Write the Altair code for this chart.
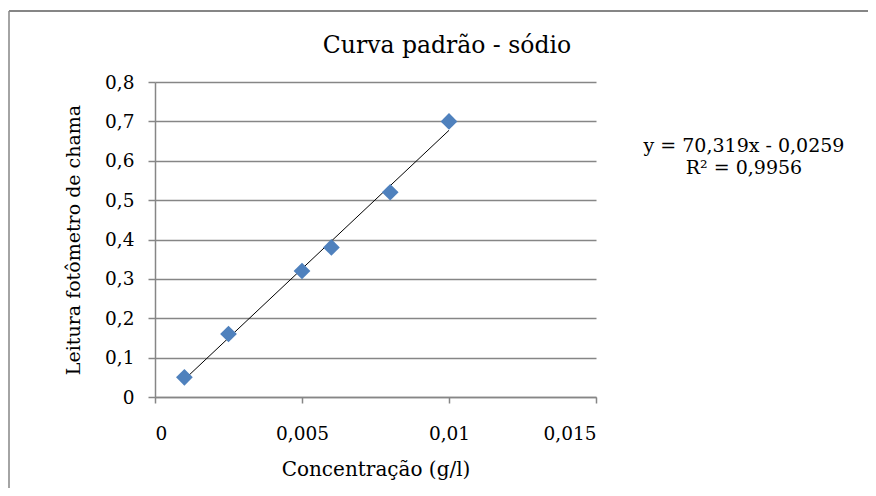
import altair as alt
import pandas as pd

# ---- data ----
conc = [0.001, 0.0025, 0.005, 0.006, 0.008, 0.01]
leitura = [0.05, 0.16, 0.32, 0.38, 0.52, 0.70]
x_ticks = [0, 0.005, 0.01, 0.015]
y_ticks = [0, 0.1, 0.2, 0.3, 0.4, 0.5, 0.6, 0.7, 0.8]
equation_lines = ["y = 70,319x - 0,0259", "R² = 0,9956"]
title_text = "Curva padrão - sódio"
x_title = "Concentração (g/l)"
y_title = "Leitura fotômetro de chama"

df = pd.DataFrame({"conc": conc, "leitura": leitura})
one = pd.DataFrame({"k": [0]})

FONT = "DejaVu Serif"
GRAY = "#868686"
comma = "replace(toString(datum.value), '.', ',')"

x_enc = alt.X(
    "conc:Q",
    scale=alt.Scale(domain=[0, 0.015], nice=False),
    axis=alt.Axis(values=x_ticks, labelExpr=comma, title=x_title, grid=False,
                  tickSize=6, labelPadding=21, titlePadding=17, labelOverlap=False,
                  titleFontSize=20),
)
y_enc = alt.Y(
    "leitura:Q",
    scale=alt.Scale(domain=[0, 0.8], nice=False),
    axis=alt.Axis(values=y_ticks, labelExpr=comma, title=y_title, grid=True,
                  tickSize=7, labelPadding=14, titlePadding=21, labelOverlap=False,
                  titleFontSize=19),
)

points = alt.Chart(df).mark_point(
    shape="diamond", filled=True, size=280, color="#4F81BD", opacity=1
).encode(x=x_enc, y=y_enc)

trend = alt.Chart(df).transform_regression(
    "conc", "leitura", extent=[0.001, 0.01]
).mark_line(color="black", strokeWidth=1).encode(x=x_enc, y=y_enc)

eq1 = alt.Chart(one).mark_text(
    text=equation_lines[0], font=FONT, fontSize=19, align="center",
    baseline="alphabetic", color="black"
).encode(x=alt.value(589), y=alt.value(69.5))
eq2 = alt.Chart(one).mark_text(
    text=equation_lines[1], font=FONT, fontSize=19, align="center",
    baseline="alphabetic", color="black"
).encode(x=alt.value(589), y=alt.value(92))

title = alt.Chart(one).mark_text(
    text=title_text, font=FONT, fontSize=23.5, align="center",
    baseline="alphabetic", color="black"
).encode(x=alt.value(292), y=alt.value(-29.5))

border_left = alt.Chart(one).mark_rule(color=GRAY, strokeWidth=1.5).encode(
    x=alt.value(-146), y=alt.value(-71), y2=alt.value(430)
)
border_top = alt.Chart(one).mark_rule(color=GRAY, strokeWidth=2).encode(
    x=alt.value(-146), x2=alt.value(730), y=alt.value(-71)
)

chart = alt.layer(trend, points, eq1, eq2, title, border_left, border_top).properties(
    width=441,
    height=315,
    autosize=alt.AutoSizeParams(type="none"),
    padding={"left": 147, "top": 74, "right": 272, "bottom": 91},
).configure_axis(
    labelFont=FONT, labelFontSize=18.5, labelColor="black",
    titleFont=FONT, titleFontWeight="normal", titleColor="black",
    domainColor=GRAY, tickColor=GRAY, gridColor=GRAY,
    domainWidth=1.5, tickWidth=1.5, gridWidth=1.5,
).configure_view(stroke=None)

chart.save("out.html", embed_options={"renderer": "svg", "actions": False})
